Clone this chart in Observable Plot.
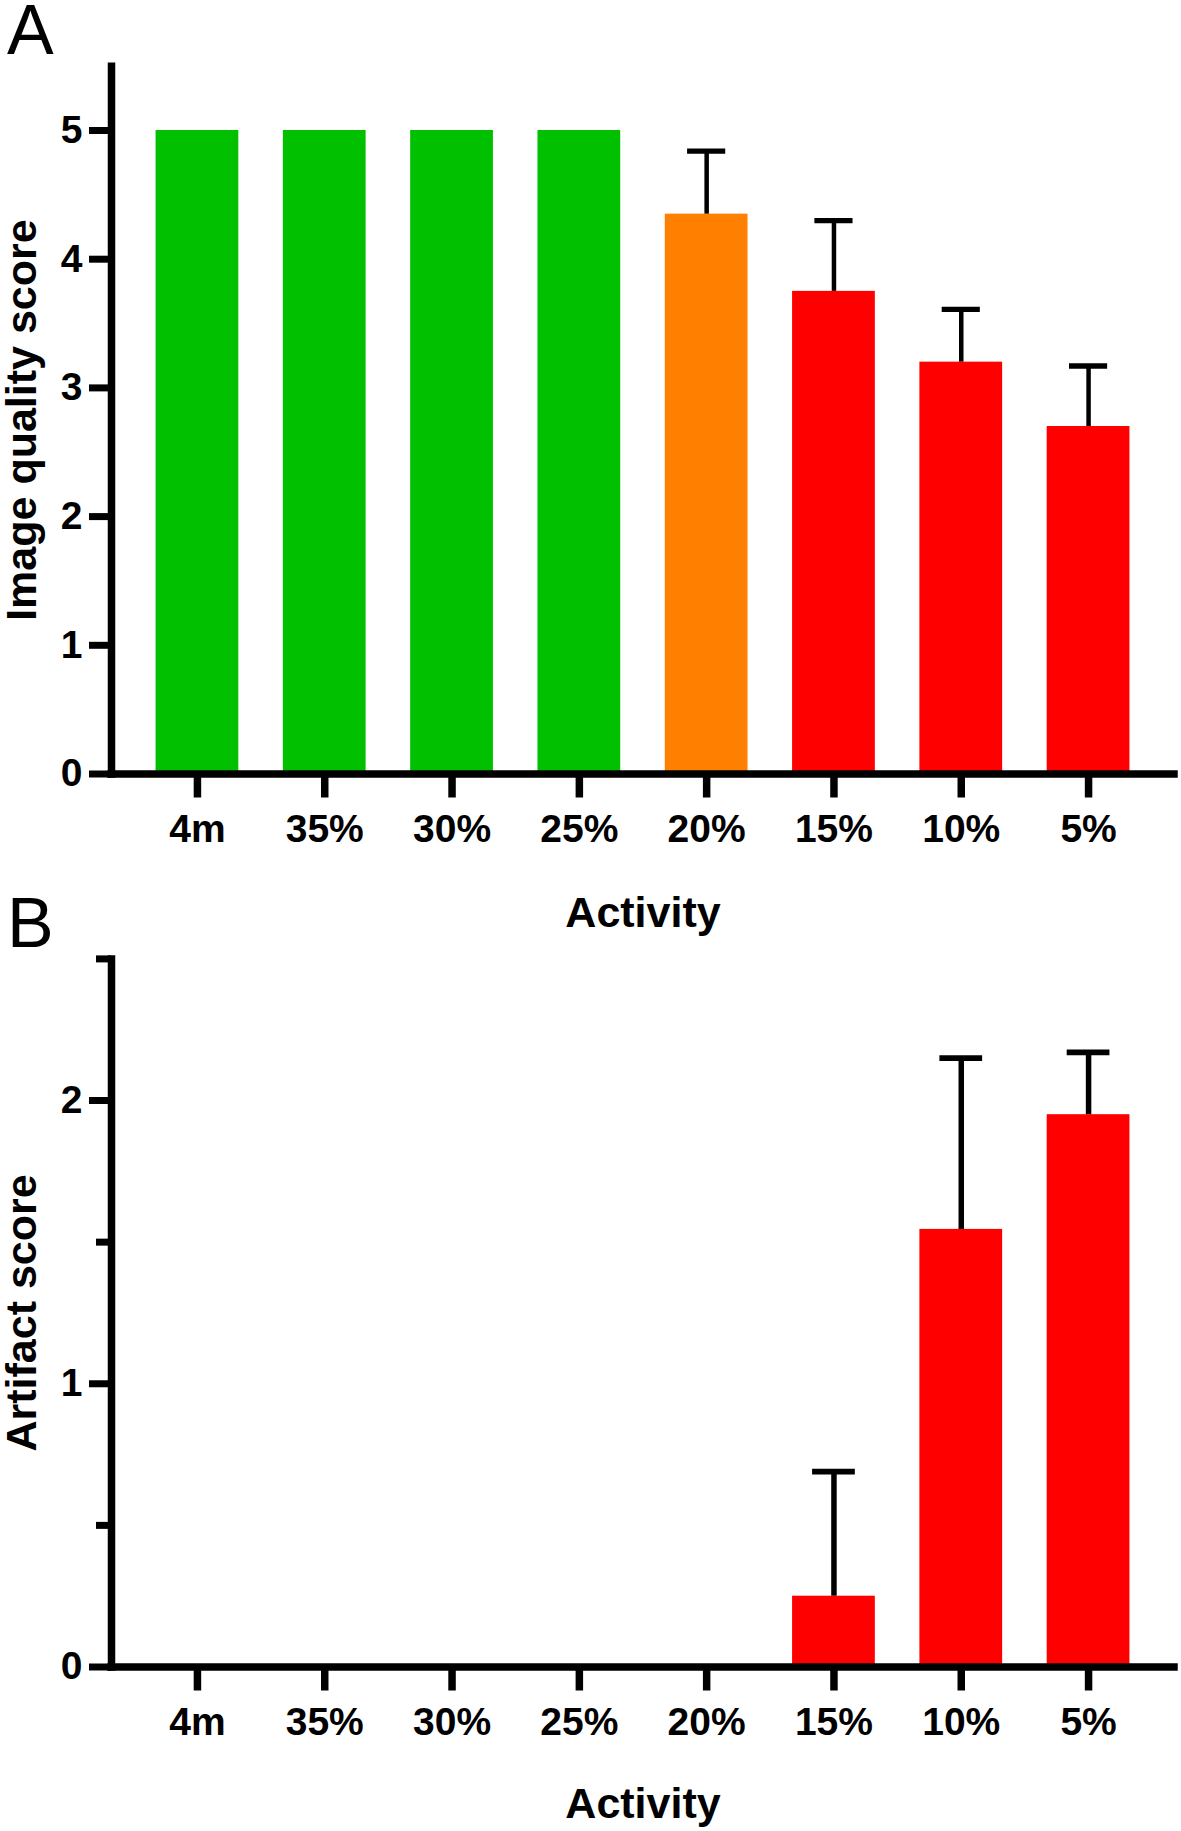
<!DOCTYPE html>
<html>
<head>
<meta charset="utf-8">
<script src="https://cdn.jsdelivr.net/npm/d3@7"></script>
<script src="https://cdn.jsdelivr.net/npm/@observablehq/plot@0.6"></script>
<style>
  body { margin: 0; background: #fff; }
  #fig { position: relative; width: 1181px; height: 1831px; font-family: "Liberation Sans", Arial, sans-serif; }
  #fig > svg { position: absolute; left: 0; }
  g[aria-label="y-axis label"] text, g[aria-label="x-axis label"] text { font-size: 43px; }
</style>
</head>
<body>
<div id="fig"></div>
<script>
// ---- data ----
const categories = ["4m", "35%", "30%", "25%", "20%", "15%", "10%", "5%"];
const qualityMean = [5, 5, 5, 5, 4.35, 3.75, 3.2, 2.7];
const qualitySD = [0, 0, 0, 0, 0.49, 0.55, 0.41, 0.47];
const qualityColors = ["#00C000", "#00C000", "#00C000", "#00C000", "#FF8000", "#FF0000", "#FF0000", "#FF0000"];
const artifactMean = [0, 0, 0, 0, 0, 0.25, 1.545, 1.95];
const artifactSD = [0, 0, 0, 0, 0, 0.44, 0.605, 0.22];
const artifactColors = ["#FF0000", "#FF0000", "#FF0000", "#FF0000", "#FF0000", "#FF0000", "#FF0000", "#FF0000"];
const qualityTicks = [0, 1, 2, 3, 4, 5];
const artifactTicks = [0, 1, 2];
const artifactMinorTicks = [0.5, 1.5, 2.5];

function rowsOf(means, sds, colors) {
  return categories.map((c, i) => ({cat: c, mean: means[i], sd: sds[i], color: colors[i]}));
}

function panel(opts) {
  const rows = rowsOf(opts.means, opts.sds, opts.colors);
  const err = rows.filter(d => d.sd > 0);
  const marks = [
    Plot.barY(rows, {x: "cat", y: "mean", fill: "color"}),
    Plot.ruleX(err, {x: "cat", y1: "mean", y2: d => d.mean + d.sd, stroke: "black", strokeWidth: opts.errW}),
    Plot.tickY(err, {x: "cat", y: d => d.mean + d.sd, stroke: "black", strokeWidth: opts.capW, insetLeft: opts.capInset, insetRight: opts.capInset}),
    Plot.ruleY([0], {stroke: "black", strokeWidth: 7.5, strokeLinecap: "square"}),
    Plot.frame({anchor: "left", stroke: "black", strokeWidth: 7.5, strokeLinecap: "square"}),
    Plot.axisY({ticks: opts.ticks, tickSize: 22, tickPadding: 7, strokeWidth: 7, tickFormat: d3.format("d"), label: opts.yLabel, labelAnchor: "center", labelOffset: 106, labelArrow: "none"}),
    Plot.axisX({tickSize: 24, tickPadding: 16, strokeWidth: 7.5, label: "Activity", labelAnchor: "center", labelOffset: opts.xLabelOffset, labelArrow: "none"})
  ];
  if (opts.minor) {
    marks.push(Plot.axisY({ticks: opts.minor, tickSize: 15, strokeWidth: 7, tickFormat: () => "", label: null}));
  }
  return Plot.plot({
    width: 1181,
    height: opts.height,
    marginLeft: 111,
    marginRight: 7,
    marginTop: opts.marginTop,
    marginBottom: opts.marginBottom,
    x: {type: "band", domain: categories, padding: 0.35, round: false, label: null},
    y: {domain: opts.yDomain, label: null},
    color: {type: "identity"},
    style: {fontFamily: '"Liberation Sans", Arial, sans-serif', fontWeight: "bold", fontSize: "39px", color: "black", background: "transparent", overflow: "visible"},
    marks
  });
}

const fig = document.getElementById("fig");

const a = panel({
  means: qualityMean, sds: qualitySD, colors: qualityColors,
  yDomain: [0, 5.5], ticks: qualityTicks, yLabel: "Image quality score",
  height: 930, marginTop: 65.65, marginBottom: 156.5, xLabelOffset: 152.5,
  errW: 4.5, capW: 5.3, capInset: 22.3
});
a.style.top = "0px";
fig.appendChild(a);

const b = panel({
  means: artifactMean, sds: artifactSD, colors: artifactColors,
  yDomain: [0, 2.5], ticks: artifactTicks, minor: artifactMinorTicks, yLabel: "Artifact score",
  height: 901, marginTop: 28.4, marginBottom: 164.5, xLabelOffset: 150.5,
  errW: 5.5, capW: 5.7, capInset: 20
});
b.style.top = "930px";
fig.appendChild(b);

// panel letters
const ns = "http://www.w3.org/2000/svg";
const ov = document.createElementNS(ns, "svg");
ov.setAttribute("width", 1181);
ov.setAttribute("height", 1831);
ov.style.top = "0px";
ov.style.pointerEvents = "none";
[["A", 54], ["B", 947]].forEach(([t, y]) => {
  const el = document.createElementNS(ns, "text");
  el.setAttribute("x", 7);
  el.setAttribute("y", y);
  el.setAttribute("font-family", '"Liberation Sans", Arial, sans-serif');
  el.setAttribute("font-size", 70);
  el.textContent = t;
  ov.appendChild(el);
});
fig.appendChild(ov);
</script>
</body>
</html>
